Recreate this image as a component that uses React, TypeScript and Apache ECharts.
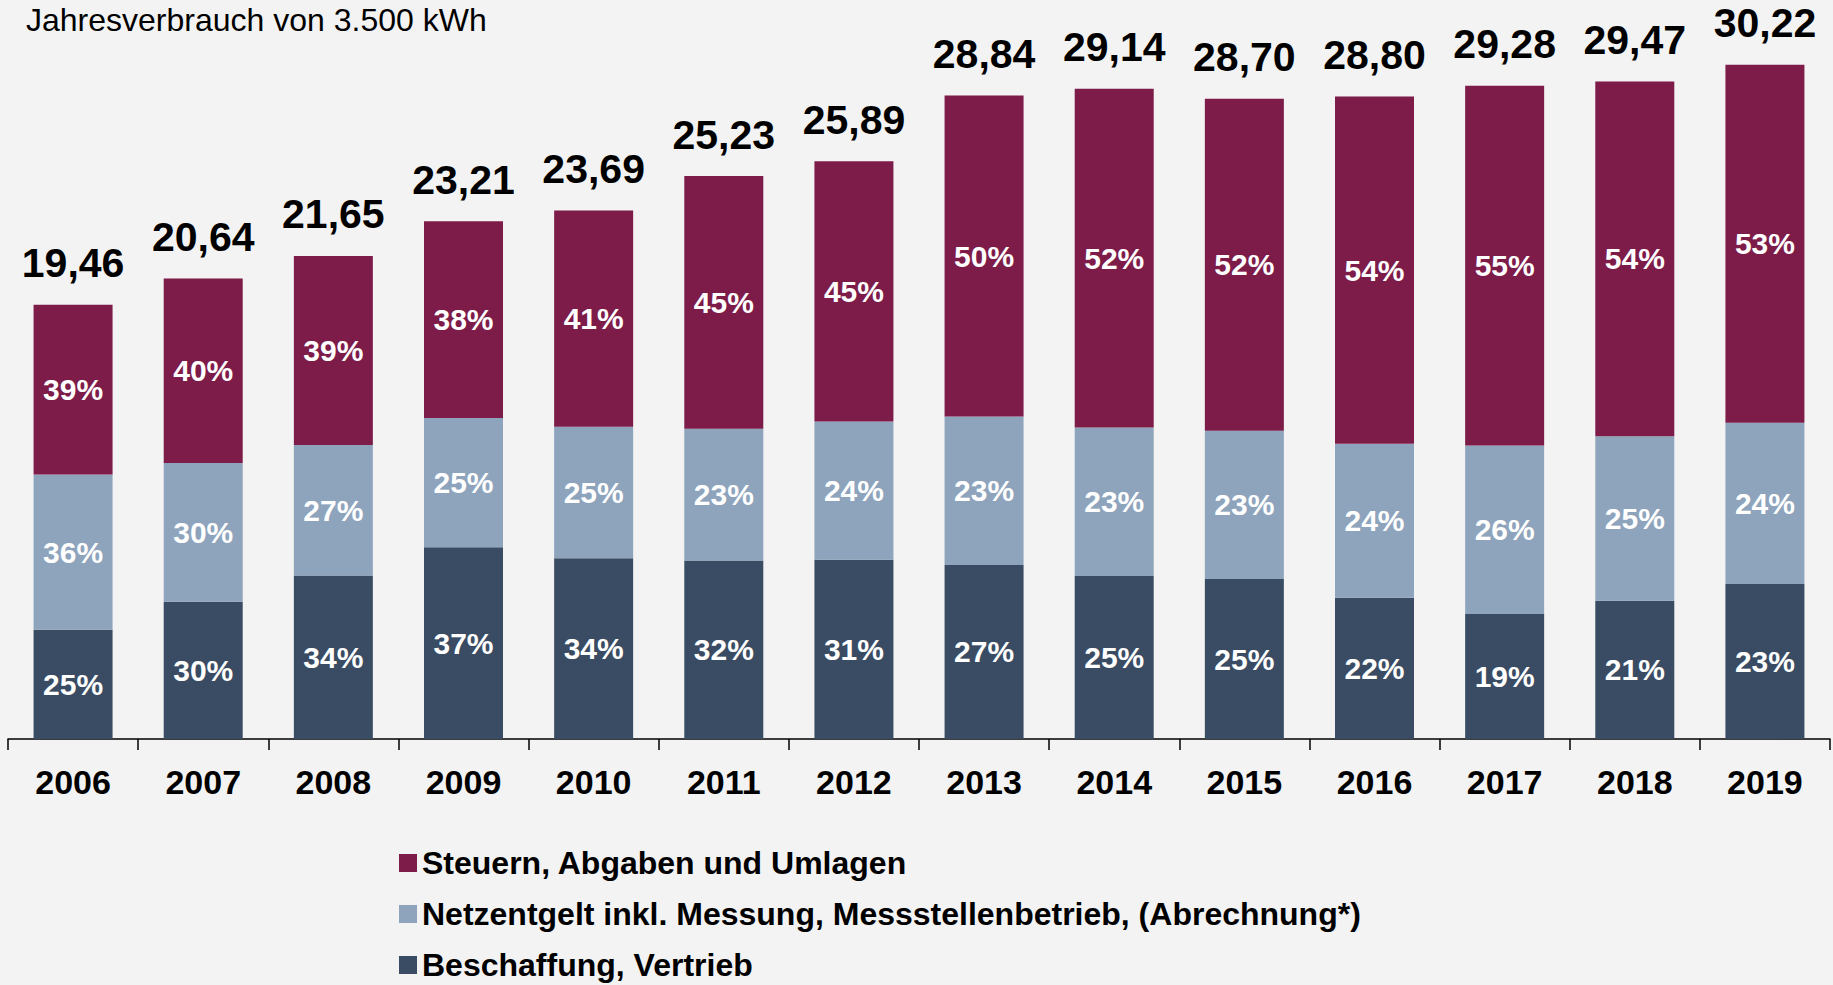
import React, { useEffect, useRef } from "react";
import * as echarts from "echarts";

const years = ["2006", "2007", "2008", "2009", "2010", "2011", "2012", "2013", "2014", "2015", "2016", "2017", "2018", "2019"];
const totals = [19.46, 20.64, 21.65, 23.21, 23.69, 25.23, 25.89, 28.84, 29.14, 28.7, 28.8, 29.28, 29.47, 30.22];
const beschaffung = [4.9, 6.15, 7.33, 8.59, 8.1, 8.0, 8.03, 7.8, 7.31, 7.17, 6.33, 5.6, 6.2, 6.95];
const netz = [6.95, 6.22, 5.85, 5.8, 5.9, 5.9, 6.2, 6.65, 6.65, 6.65, 6.9, 7.55, 7.37, 7.22];
const steuern = [7.61, 8.27, 8.47, 8.82, 9.69, 11.33, 11.66, 14.39, 15.18, 14.88, 15.57, 16.13, 15.9, 16.05];
const pctSteuern = [39, 40, 39, 38, 41, 45, 45, 50, 52, 52, 54, 55, 54, 53];
const pctNetz = [36, 30, 27, 25, 25, 23, 24, 23, 23, 23, 24, 26, 25, 24];
const pctBeschaffung = [25, 30, 34, 37, 34, 32, 31, 27, 25, 25, 22, 19, 21, 23];

const nameSteuern = "Steuern, Abgaben und Umlagen";
const nameNetz = "Netzentgelt inkl. Messung, Messstellenbetrieb, (Abrechnung*)";
const nameBeschaffung = "Beschaffung, Vertrieb";
const legendNames = [nameSteuern, nameNetz, nameBeschaffung];
const titleText = "Jahresverbrauch von 3.500 kWh";

const FONT = "'Liberation Sans', Arial, Helvetica, sans-serif";

export default function App() {
  const ref = useRef<HTMLDivElement>(null);
  useEffect(() => {
    if (!ref.current) return;
    const chart = echarts.init(ref.current, null, { renderer: "svg" });
    const innerLabel = (pcts: number[]) => ({
      show: true,
      position: "inside",
      color: "#ffffff",
      fontSize: 30,
      fontWeight: "bold",
      fontFamily: FONT,
      formatter: (p: any) => pcts[p.dataIndex] + "%",
    });
    const common = { type: "bar", stack: "total", barWidth: 79, barGap: "-100%" };
    const legendTops = [842, 893, 944];
    chart.setOption({
      animation: false,
      backgroundColor: "#f3f3f3",
      textStyle: { fontFamily: FONT },
      title: {
        text: titleText,
        left: 21,
        top: -1,
        textStyle: { fontSize: 32, fontWeight: "normal", color: "#000", fontFamily: FONT },
      },
      legend: legendNames.map((n, i) => ({
        data: [n],
        orient: "vertical",
        left: 394,
        top: legendTops[i],
        icon: "rect",
        itemWidth: 18,
        itemHeight: 18,
        itemGap: 0,
        selectedMode: false,
        textStyle: { fontSize: 32, fontWeight: "bold", color: "#000", lineHeight: 32, fontFamily: FONT },
      })),
      grid: { left: 8, right: 3, top: 25, bottom: 246 },
      xAxis: {
        type: "category",
        data: years,
        axisLine: { lineStyle: { color: "#000", width: 1.5 } },
        axisTick: { show: true, length: 11, lineStyle: { color: "#000", width: 1.5 } },
        axisLabel: { fontSize: 34, fontWeight: "bold", color: "#000", margin: 26, fontFamily: FONT },
      },
      yAxis: { type: "value", min: 0, max: 32, show: false, splitLine: { show: false } },
      series: [
        { ...common, name: nameBeschaffung, data: beschaffung, itemStyle: { color: "#3a4c63" }, label: innerLabel(pctBeschaffung) },
        { ...common, name: nameNetz, data: netz, itemStyle: { color: "#8ea4bc" }, label: innerLabel(pctNetz) },
        { ...common, name: nameSteuern, data: steuern, itemStyle: { color: "#7d1b49" }, label: innerLabel(pctSteuern) },
        {
          type: "bar",
          name: "Gesamt",
          data: totals,
          barWidth: 79,
          barGap: "-100%",
          silent: true,
          itemStyle: { color: "rgba(0,0,0,0)" },
          label: {
            show: true,
            position: "top",
            distance: 21,
            color: "#000",
            fontSize: 41,
            fontWeight: "bold",
            fontFamily: FONT,
            formatter: (p: any) => totals[p.dataIndex].toFixed(2).replace(".", ","),
          },
        },
      ],
    });
    return () => chart.dispose();
  }, []);
  return <div ref={ref} style={{ position: "absolute", left: 0, top: 0, width: 1833, height: 985 }} />;
}
